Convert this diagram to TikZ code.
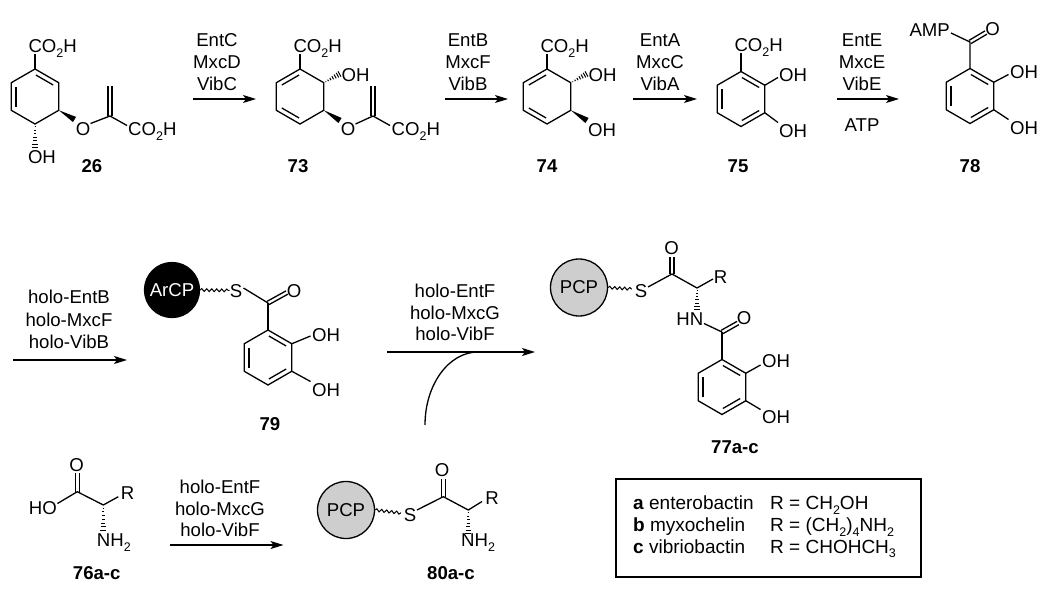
\documentclass[tikz,border=0pt]{standalone}
\usepackage{fontspec}
\setmainfont{Liberation Sans}
\usetikzlibrary{calc,arrows.meta,decorations.pathmorphing}
\newcommand\labfont{\fontsize{18.6}{22}\selectfont}
\newcommand\boxfont{\fontsize{19}{22}\selectfont}
\newcommand\sbs[1]{\raisebox{-4.5pt}{\fontsize{12.5}{13}\selectfont #1}}
\definecolor{pcpgray}{RGB}{206,206,206}
\tikzset{
  bond/.style={line width=1.3pt},
  atom/.style={inner sep=0pt, text height=13.3pt, text depth=0pt, font=\labfont},
  num/.style={atom, font=\labfont\bfseries},
  boxt/.style={atom, font=\boxfont, anchor=west},
  rxn/.style={line width=1.3pt, -{Stealth[length=13pt,width=8pt,inset=3pt]}},
  wavy/.style={line width=1pt, decorate, decoration={snake, amplitude=1.4pt, segment length=5pt}},
  cp/.style={circle, draw, line width=1.3pt, inner sep=0pt, minimum size=57pt, font=\labfont}
}
% hexagon ring: name, cx, cy
\newcommand\hexring[3]{%
  \coordinate (#1c) at (#2,#3);
  \coordinate (#1v1) at (#2,#3-27.5);
  \coordinate (#1v2) at (#2+23.8,#3-13.75);
  \coordinate (#1v3) at (#2+23.8,#3+13.75);
  \coordinate (#1v4) at (#2,#3+27.5);
  \coordinate (#1v5) at (#2-23.8,#3+13.75);
  \coordinate (#1v6) at (#2-23.8,#3-13.75);
  \draw[bond] (#1v1)--(#1v2)--(#1v3)--(#1v4)--(#1v5)--(#1v6)--cycle;}
\newcommand\ringdb[3]{\draw[bond, shorten <=1pt, shorten >=1pt] ($(#1c)!0.8!(#1v#2)$) -- ($(#1c)!0.8!(#1v#3)$);}
\newcommand\wdg[2]{\fill #1 -- ($#2!3pt!90:#1$) -- ($#2!3pt!-90:#1$) -- cycle;}
\newcommand\hsh[2]{%
  \coordinate (hshL) at ($#2!3pt!90:#1$);
  \coordinate (hshR) at ($#2!3pt!-90:#1$);
  \foreach \hp in {0.12,0.27,0.42,0.57,0.72,0.87,1}{\draw[line width=1pt] ($#1!\hp!(hshL)$) -- ($#1!\hp!(hshR)$);}}
\newcommand\dbond[3][1.9pt]{\draw[bond] ($#2!#1!90:#3$) -- ($#3!#1!-90:#2$); \draw[bond] ($#2!#1!-90:#3$) -- ($#3!#1!90:#2$);}
\begin{document}
\begin{tikzpicture}[x=1pt,y=-1pt]
\useasboundingbox (0,0) rectangle (1050,589);

% ---------- 26 ----------
\hexring{ra}{35}{96.5}
\ringdb{ra}{1}{2}\ringdb{ra}{5}{6}
\node[atom,anchor=west] (co26) at (28.3,46) {CO\sbs{2}H};
\draw[bond] (rav1) -- (35,54);
\wdg{(rav3)}{(74.5,119.5)}
\node[atom] (o26) at (83,129) {O};
\coordinate (cv26) at (110,116);
\draw[bond] (90.5,123.5) -- (cv26) -- (127,125.5);
\dbond{(cv26)}{(110,86)}
\node[atom,anchor=west] (co26b) at (128,129) {CO\sbs{2}H};
\hsh{(rav4)}{(35,147)}
\node[atom,anchor=west] (oh26) at (27.8,156.5) {OH};
\node[num] (n26) at (92,165.5) {26};

% ---------- arrow 1 ----------
\coordinate (a1s) at (193,99); \coordinate (a1e) at (256,99);
\draw[rxn] (a1s) -- (a1e);
\node[atom] (t1a) at (217,40) {EntC};
\node[atom] (t1b) at (217,62) {MxcD};
\node[atom] (t1c) at (217,84) {VibC};

% ---------- 73 ----------
\hexring{rb}{300}{96.5}
\ringdb{rb}{1}{6}\ringdb{rb}{4}{5}
\node[atom,anchor=west] (co73) at (293.3,46) {CO\sbs{2}H};
\draw[bond] (rbv1) -- (300,54);
\hsh{(rbv2)}{(339.5,74)}
\node[atom,anchor=west] (oh73) at (341.5,74.5) {OH};
\wdg{(rbv3)}{(340,120.5)}
\node[atom] (o73) at (348,129) {O};
\coordinate (cv73) at (373,116);
\draw[bond] (355.5,124) -- (cv73) -- (390,125.5);
\dbond{(cv73)}{(373,86)}
\node[atom,anchor=west] (co73b) at (391.5,129) {CO\sbs{2}H};
\node[num] (n73) at (298,165.5) {73};

% ---------- arrow 2 ----------
\coordinate (a2s) at (445,99); \coordinate (a2e) at (508,99);
\draw[rxn] (a2s) -- (a2e);
\node[atom] (t2a) at (468,40) {EntB};
\node[atom] (t2b) at (468,62) {MxcF};
\node[atom] (t2c) at (468,84) {VibB};

% ---------- 74 ----------
\hexring{rc}{547}{96.5}
\ringdb{rc}{1}{6}\ringdb{rc}{4}{5}
\node[atom,anchor=west] (co74) at (540.3,46) {CO\sbs{2}H};
\draw[bond] (rcv1) -- (547,54);
\hsh{(rcv2)}{(586.5,74)}
\node[atom,anchor=west] (oh74a) at (588.5,74.5) {OH};
\wdg{(rcv3)}{(587,120.5)}
\node[atom,anchor=west] (oh74b) at (588,129.5) {OH};
\node[num] (n74) at (547,165.5) {74};

% ---------- arrow 3 ----------
\coordinate (a3s) at (633,99); \coordinate (a3e) at (697,99);
\draw[rxn] (a3s) -- (a3e);
\node[atom] (t3a) at (660,39.5) {EntA};
\node[atom] (t3b) at (660,61.5) {MxcC};
\node[atom] (t3c) at (660,83.5) {VibA};

% ---------- 75 ----------
\hexring{rd}{741}{99}
\ringdb{rd}{1}{2}\ringdb{rd}{3}{4}\ringdb{rd}{5}{6}
\node[atom,anchor=west] (co75) at (734.3,45) {CO\sbs{2}H};
\draw[bond] (rdv1) -- (741,53);
\draw[bond] (rdv2) -- (778,77.5);
\node[atom,anchor=west] (oh75a) at (779,75) {OH};
\draw[bond] (rdv3) -- (778,122.5);
\node[atom,anchor=west] (oh75b) at (779,130.5) {OH};
\node[num] (n75) at (738,165.5) {75};

% ---------- arrow 4 ----------
\coordinate (a4s) at (837,99); \coordinate (a4e) at (899,99);
\draw[rxn] (a4s) -- (a4e);
\node[atom] (t4a) at (862,40) {EntE};
\node[atom] (t4b) at (862,62) {MxcE};
\node[atom] (t4c) at (862,84) {VibE};
\node[atom] (t4d) at (862,125) {ATP};

% ---------- 78 ----------
\hexring{re}{970}{96}
\ringdb{re}{1}{2}\ringdb{re}{3}{4}\ringdb{re}{5}{6}
\coordinate (c78) at (970,42);
\draw[bond] (rev1) -- (c78) -- (951,33);
\node[atom,anchor=east] (amp) at (950,29.5) {AMP};
\dbond{(c78)}{(986,32.5)}
\node[atom] (o78) at (992.5,28.5) {O};
\draw[bond] (rev2) -- (1008.5,74.5);
\node[atom,anchor=west] (oh78a) at (1010,72) {OH};
\draw[bond] (rev3) -- (1008.5,119.5);
\node[atom,anchor=west] (oh78b) at (1010,127.5) {OH};
\node[num] (n78) at (970,165.5) {78};

% ---------- arrow 5 ----------
\coordinate (a5s) at (13,360); \coordinate (a5e) at (127,360);
\draw[rxn] (a5s) -- (a5e);
\node[atom] (t5a) at (69,297) {holo-EntB};
\node[atom] (t5b) at (69,319.5) {holo-MxcF};
\node[atom] (t5c) at (69,341.5) {holo-VibB};

% ---------- 79 ----------
\node[cp, fill=black, text=white, minimum size=55pt] (arcp) at (172,290) {ArCP};
\draw[wavy] (arcp.east) -- (229.5,290.5);
\node[atom] (s79) at (236,291) {S};
\coordinate (c79) at (268,303);
\draw[bond] (243.5,288) -- (c79);
\dbond{(c79)}{(287,292.5)}
\node[atom] (o79) at (294,291) {O};
\hexring{rf}{268}{357.5}
\ringdb{rf}{1}{2}\ringdb{rf}{3}{4}\ringdb{rf}{5}{6}
\draw[bond] (c79) -- (rfv1);
\draw[bond] (rfv2) -- (310.5,336);
\node[atom,anchor=west] (oh79a) at (312,334.5) {OH};
\draw[bond] (rfv3) -- (310.5,381.5);
\node[atom,anchor=west] (oh79b) at (312,389.5) {OH};
\node[num] (n79) at (270,423.5) {79};

% ---------- arrow 6 ----------
\coordinate (a6s) at (387,352); \coordinate (a6e) at (535,352);
\draw[rxn] (a6s) -- (a6e);
\node[atom] (t6a) at (455,290.5) {holo-EntF};
\node[atom] (t6b) at (455,312.5) {holo-MxcG};
\node[atom] (t6c) at (455,334) {holo-VibF};
\coordinate (cv1) at (425,425); \coordinate (cv2) at (478,352);
\draw[line width=1.3pt] (cv1) .. controls (425,384.7) and (448.7,352) .. (cv2);

% ---------- 77a-c ----------
\node[cp, fill=pcpgray] (pcp77) at (579,287.5) {PCP};
\draw[wavy] (pcp77.east) -- (632,289);
\node[atom] (s77) at (641,291) {S};
\coordinate (c77a) at (672,274);
\coordinate (ca77) at (697,288);
\draw[bond] (648,287) -- (c77a) -- (ca77) -- (713,279);
\dbond{(c77a)}{(672,256.5)}
\node[atom] (o77a) at (671.5,247.5) {O};
\node[atom] (r77) at (720.5,276.5) {R};
\hsh{(ca77)}{(697,309)}
\node[atom,anchor=east] (hn77) at (703.5,318.5) {HN};
\coordinate (c77b) at (722,332);
\draw[bond] (704,323.5) -- (c77b);
\dbond{(c77b)}{(738,323)}
\node[atom] (o77b) at (744,317.5) {O};
\hexring{rg}{722}{387}
\ringdb{rg}{1}{2}\ringdb{rg}{3}{4}\ringdb{rg}{5}{6}
\draw[bond] (c77b) -- (rgv1);
\draw[bond] (rgv2) -- (760.5,365);
\node[atom,anchor=west] (oh77a) at (762,361) {OH};
\draw[bond] (rgv3) -- (760.5,409.5);
\node[atom,anchor=west] (oh77b) at (762,417) {OH};
\node[num] (n77) at (735,447) {77a-c};

% ---------- 76a-c ----------
\coordinate (c76) at (77.3,491.7);
\coordinate (ca76) at (103.3,505);
\dbond{(c76)}{(77.3,473)}
\node[atom] (o76) at (76.7,464.5) {O};
\node[atom,anchor=east] (ho76) at (57,508.3) {HO};
\draw[bond] (57.5,503.5) -- (c76) -- (ca76) -- (118.3,496.7);
\node[atom] (r76) at (127.5,493.3) {R};
\hsh{(ca76)}{(103.3,530)}
\node[atom,anchor=west] (nh76) at (96.7,540) {NH\sbs{2}};
\node[num] (n76) at (96.7,572.5) {76a-c};

% ---------- arrow 7 ----------
\coordinate (a7s) at (170,545); \coordinate (a7e) at (283.5,545);
\draw[rxn] (a7s) -- (a7e);
\node[atom] (t7a) at (220,486.7) {holo-EntF};
\node[atom] (t7b) at (220,509) {holo-MxcG};
\node[atom] (t7c) at (220,530) {holo-VibF};

% ---------- 80a-c ----------
\node[cp, fill=pcpgray] (pcp80) at (346,510) {PCP};
\draw[wavy] (pcp80.east) -- (401,513);
\node[atom] (s80) at (410,514.5) {S};
\coordinate (c80) at (443.3,496.7);
\coordinate (ca80) at (468.3,510);
\draw[bond] (417,510) -- (c80) -- (ca80) -- (482,501.5);
\dbond{(c80)}{(443.3,478.5)}
\node[atom] (o80) at (442,469.5) {O};
\node[atom] (r80) at (492,498) {R};
\hsh{(ca80)}{(468.3,533)}
\node[atom,anchor=west] (nh80) at (461,540) {NH\sbs{2}};
\node[num] (n80) at (451,572.5) {80a-c};

% ---------- legend box ----------
\coordinate (bx1) at (616,479); \coordinate (bx2) at (921,577);
\draw[line width=1.3pt] (bx1) rectangle (bx2);
\node[boxt] (la) at (633,503.3) {\textbf{a} enterobactin};
\node[boxt] (lar) at (770,503.3) {R = CH\sbs{2}OH};
\node[boxt] (lb) at (633,525) {\textbf{b} myxochelin};
\node[boxt] (lbr) at (770,525) {R = (CH\sbs{2})\sbs{4}NH\sbs{2}};
\node[boxt] (lc) at (633,546.7) {\textbf{c} vibriobactin};
\node[boxt] (lcr) at (770,546.7) {R = CHOHCH\sbs{3}};
\end{tikzpicture}
\end{document}
